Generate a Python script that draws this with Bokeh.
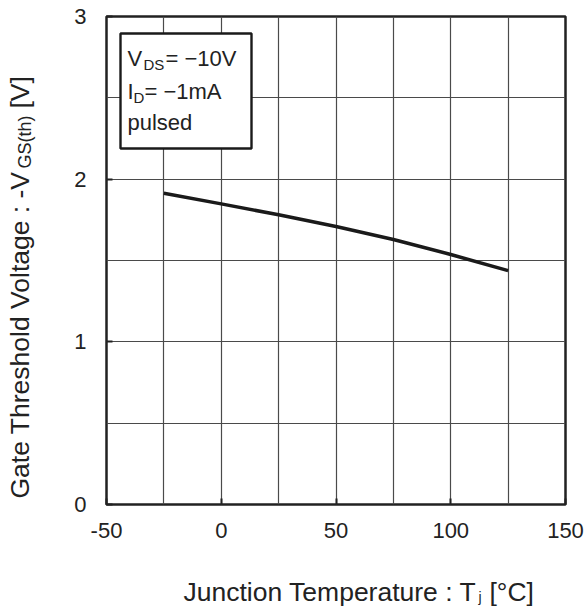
import math
from bokeh.plotting import figure
from bokeh.models import Label, BoxAnnotation, FixedTicker, Range1d
from bokeh.embed import file_html
from bokeh.resources import INLINE

# ---- data ----
temps = [-25, 0, 25, 50, 75, 100, 125]
vth = [1.913, 1.848, 1.781, 1.709, 1.629, 1.537, 1.438]
x_ticks = [-50, 0, 50, 100, 150]
x_tick_labels = ["-50", "0", "50", "100", "150"]
y_ticks = [0, 1, 2, 3]
y_tick_labels = ["0", "1", "2", "3"]
x_grid = [-50, -25, 0, 25, 50, 75, 100, 125, 150]
y_grid = [0, 0.5, 1, 1.5, 2, 2.5, 3]

FONT = "Liberation Sans"
W, H = 587, 611
# frame in picture pixel coordinates
FL, FR, FT, FB = 106, 565, 16, 504

p = figure(width=W, height=H, x_range=Range1d(-50, 150), y_range=Range1d(0, 3),
           output_backend="svg", toolbar_location=None,
           min_border_left=FL, min_border_right=W - FR,
           min_border_top=FT, min_border_bottom=H - FB)

p.outline_line_color = "#222222"
p.outline_line_width = 2.5
p.background_fill_color = "white"
p.border_fill_color = "white"

p.xgrid.ticker = FixedTicker(ticks=x_grid)
p.ygrid.ticker = FixedTicker(ticks=y_grid)
for g in (p.xgrid, p.ygrid):
    g.grid_line_color = "#4a4a4a"
    g.grid_line_width = 1.2
    g.grid_line_alpha = 1.0

p.xaxis.ticker = FixedTicker(ticks=x_ticks)
p.yaxis.ticker = FixedTicker(ticks=y_ticks)
p.xaxis.major_label_overrides = {t: s for t, s in zip(x_ticks, x_tick_labels)}
p.yaxis.major_label_overrides = {t: s for t, s in zip(y_ticks, y_tick_labels)}
for ax in (p.xaxis, p.yaxis):
    ax.axis_line_color = None
    ax.major_tick_in = 6
    ax.major_tick_out = 0
    ax.major_tick_line_color = "#222222"
    ax.major_tick_line_width = 2
    ax.minor_tick_line_color = None
    ax.major_label_text_font = FONT
    ax.major_label_text_font_size = "22px"
    ax.major_label_text_color = "#222222"
p.xaxis.major_label_standoff = 18
p.yaxis.major_label_standoff = 20

p.line(temps, vth, line_color="#1a1a1a", line_width=3.5)


def dx(px):
    return -50 + (px - FL) / (FR - FL) * 200.0


def dy(py):
    return (FB - py) / (FB - FT) * 3.0


# condition box
p.add_layout(BoxAnnotation(left=dx(120), right=dx(251), top=dy(33), bottom=dy(148),
                           fill_color="white", fill_alpha=1.0,
                           line_color="#1a1a1a", line_alpha=1.0, line_width=2.4))

SHIFT = 9  # rendered baseline sits this much "below" the anchor


def lab(txt, px, py, size, angle=0.0, place="center"):
    if angle == 0.0:
        py -= SHIFT
    else:
        px -= SHIFT
    p.add_layout(Label(x=dx(px), y=dy(py),
                       text=txt, text_font=FONT,
                       text_font_size=size, text_color="#222222",
                       text_baseline="alphabetic", text_align="left",
                       angle=angle), place)


# box text
lab("V", 127, 67, "22px")
lab("DS", 143, 73, "15px")
lab("= \u221210V", 165, 67, "22px")
lab("I", 127, 100, "22px")
lab("D", 133, 106, "15px")
lab("= \u22121mA", 144, 100, "22px")
lab("pulsed", 127, 131, "22px")

# x axis title (pieces live in side panels so they are not clipped)
lab("Junction Temperature : T", 183, 600, "26.5px", place="below")
lab("j", 478, 605, "14px", place="above")
lab("[\u00b0C]", 489, 600, "26.5px", place="below")

# y axis title (rotated)
A = math.pi / 2
lab("Gate Threshold Voltage : -V", 28, 498, "26.5px", A, place="left")
lab("GS(th)", 33, 168, "18px", A, place="right")
lab("[V]", 28, 108, "26.5px", A, place="left")

open("out.html", "w").write(file_html(p, INLINE))
